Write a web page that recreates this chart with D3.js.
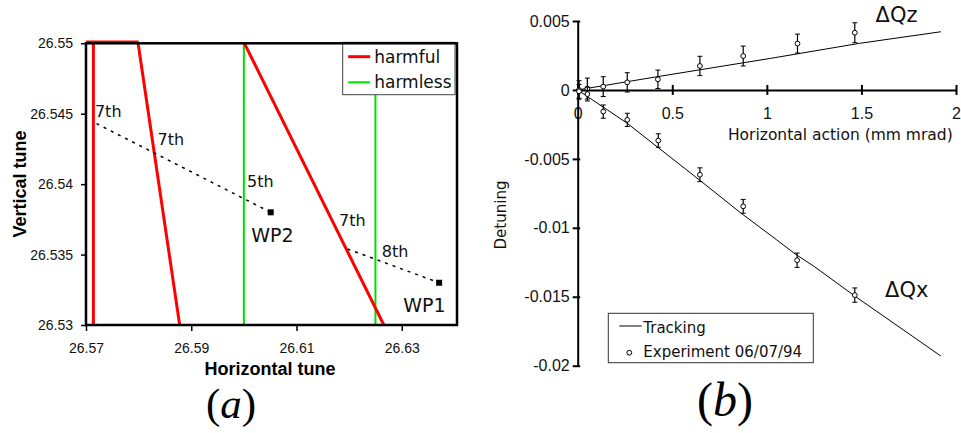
<!DOCTYPE html>
<meta charset="utf-8">
<style>
    body { margin: 0; background: #fff; }
    svg { font-family: "DejaVu Sans", sans-serif; }
    .frame { fill: none; stroke: black; stroke-width: 2.5; }
    .axA path { display: none; }
    .axA line { stroke: black; stroke-width: 1.5; }
    .axB path { stroke: black; stroke-width: 2; }
    .axB line { stroke: black; stroke-width: 2; }
</style>
<body>
<script src="https://d3js.org/d3.v7.min.js"></script>
<script>
    // ---- panel (a): tune diagram ----
    const tuneXTicks = [26.57, 26.59, 26.61, 26.63];
    const tuneXLabels = ["26.57", "26.59", "26.61", "26.63"];
    const tuneYTicks = [26.53, 26.535, 26.54, 26.545, 26.55];
    const tuneYLabels = ["26.53", "26.535", "26.54", "26.545", "26.55"];

    // resonance lines [qx1, qy1, qx2, qy2]
    const harmfulLines = [
        [26.57, 26.5501, 26.58, 26.5501],
        [26.5714, 26.55, 26.5714, 26.53],
        [26.5799, 26.55, 26.5878, 26.53],
        [26.6001, 26.55, 26.6266, 26.53]
    ];
    const harmlessLines = [
        [26.600, 26.55, 26.600, 26.53],
        [26.625, 26.55, 26.625, 26.53]
    ];
    const wpNames = ["WP1", "WP2"];
    const wpQx = [26.6371, 26.6051];
    const wpQy = [26.5330, 26.5380];
    const dottedPaths = [
        [[26.5720, 26.5443], [26.6051, 26.5380]],
        [[26.6197, 26.5354], [26.6371, 26.5330]]
    ];
    const orderText = ["7th", "7th", "5th", "7th", "8th"];
    const orderQx = [26.5717, 26.5836, 26.6006, 26.6181, 26.6262];
    const orderQy = [26.5448, 26.5428, 26.5398, 26.5370, 26.5348];
    const wpLabelQx = [26.6303, 26.6014];
    const wpLabelQy = [26.5309, 26.5359];

    // ---- panel (b): detuning ----
    const actTicks = [0, 0.5, 1, 1.5, 2];
    const actLabels = ["0", "0.5", "1", "1.5", "2"];
    const detTicks = [0.005, 0, -0.005, -0.01, -0.015, -0.02];
    const detLabels = ["0.005", "0", "-0.005", "-0.01", "-0.015", "-0.02"];

    const trackZx = [0, 0.42, 1.02, 1.49, 1.92];
    const trackZy = [0, 0.00096, 0.00229, 0.00338, 0.00422];
    const trackXx = [0, 0.26, 0.65, 0.86, 1.05, 1.15, 1.25, 1.47, 1.92];
    const trackXy = [0, -0.0024, -0.0066, -0.0089, -0.01085, -0.0119, -0.0128, -0.0150, -0.0193];

    const expZx = [0.007, 0.051, 0.135, 0.262, 0.424, 0.646, 0.875, 1.162, 1.465];
    const expZy = [0.0000, 0.0001, 0.00024, 0.00055, 0.00077, 0.00174, 0.00246, 0.00336, 0.00415];
    const expZerr = [0.00067, 0.00076, 0.00072, 0.0007, 0.00067, 0.0007, 0.00072, 0.00069, 0.00072];
    const expXx = [0.007, 0.051, 0.135, 0.262, 0.426, 0.646, 0.875, 1.160, 1.465];
    const expXy = [-0.0001, -0.0003, -0.00157, -0.00217, -0.00367, -0.00615, -0.00844, -0.01235, -0.01488];
    const expXerr = [0.0005, 0.0005, 0.00048, 0.00048, 0.00049, 0.0005, 0.0005, 0.00052, 0.00052];

    const svg = d3.select('body').append('svg')
        .attr('width', 961)
        .attr('height', 433);

    // ================= (a) =================
    const tx = d3.scaleLinear().domain([26.57, 26.6405]).range([86, 457]);
    const ty = d3.scaleLinear().domain([26.53, 26.55]).range([325, 43.3]);
    const a = svg.append('g');

    a.append('g').attr('class', 'axA')
        .attr('transform', 'translate(0,' + ty(26.53) + ')')
        .call(d3.axisBottom(tx).tickValues(tuneXTicks).tickSize(6).tickSizeOuter(0).tickPadding(12)
            .tickFormat((d, i) => tuneXLabels[i]))
        .selectAll('text').style('font-size', '14px').attr('fill', '#111');

    a.append('g').attr('class', 'axA')
        .attr('transform', 'translate(' + tx(26.57) + ',0)')
        .call(d3.axisLeft(ty).tickValues(tuneYTicks).tickSize(5).tickSizeOuter(0).tickPadding(8)
            .tickFormat((d, i) => tuneYLabels[i]))
        .selectAll('text').style('font-size', '14px').attr('fill', '#111');

    a.selectAll('.harmless').data(harmlessLines).enter().append('line')
        .attr('x1', d => tx(d[0])).attr('y1', d => ty(d[1]))
        .attr('x2', d => tx(d[2])).attr('y2', d => ty(d[3]))
        .attr('stroke', '#00e000').attr('stroke-width', 2);

    a.selectAll('.harmful').data(harmfulLines).enter().append('line')
        .attr('x1', d => tx(d[0])).attr('y1', d => ty(d[1]))
        .attr('x2', d => tx(d[2])).attr('y2', d => ty(d[3]))
        .attr('stroke', '#ff0000').attr('stroke-width', 3);

    a.selectAll('.dotted').data(dottedPaths).enter().append('path')
        .attr('d', d => d3.line().x(p => tx(p[0])).y(p => ty(p[1]))(d))
        .attr('fill', 'none').attr('stroke', 'black')
        .attr('stroke-width', 1.5).attr('stroke-dasharray', '3,5');

    a.selectAll('.wp').data(wpQx).enter().append('rect')
        .attr('x', (d, i) => tx(d) - 3).attr('y', (d, i) => ty(wpQy[i]) - 3)
        .attr('width', 6).attr('height', 6).attr('fill', 'black');

    a.selectAll('.order').data(orderText).enter().append('text')
        .attr('x', (d, i) => tx(orderQx[i])).attr('y', (d, i) => ty(orderQy[i]))
        .style('font-size', '16px').attr('fill', '#111').text(d => d);

    a.selectAll('.wplab').data(wpNames).enter().append('text')
        .attr('x', (d, i) => tx(wpLabelQx[i])).attr('y', (d, i) => ty(wpLabelQy[i]))
        .style('font-size', '19px').attr('fill', '#111').text(d => d);

    // legend
    const lg = a.append('g').attr('transform', 'translate(342.7,42.3)');
    lg.append('rect').attr('width', 112.3).attr('height', 52.4)
        .attr('fill', 'white').attr('stroke', '#444').attr('stroke-width', 1);
    const legA = [['harmful', '#ff0000', 3], ['harmless', '#00e000', 2]];
    legA.forEach((e, i) => {
        lg.append('line').attr('x1', 5.5).attr('x2', 27.5)
            .attr('y1', 14.4 + i * 25.6).attr('y2', 14.4 + i * 25.6)
            .attr('stroke', e[1]).attr('stroke-width', e[2]);
        lg.append('text').attr('x', 31.5).attr('y', 20.6 + i * 25.6)
            .style('font-size', '17px').attr('fill', '#111').text(e[0]);
    });

    a.append('rect').attr('class', 'frame')
        .attr('x', tx(26.57)).attr('y', ty(26.55))
        .attr('width', tx.range()[1] - tx(26.57)).attr('height', ty(26.53) - ty(26.55));

    a.append('text').attr('x', 270).attr('y', 375).attr('text-anchor', 'middle')
        .style('font-family', '"Liberation Sans", sans-serif').style('font-weight', 'bold')
        .style('font-size', '18px').text('Horizontal tune');
    a.append('text').attr('transform', 'translate(26,184) rotate(-90)').attr('text-anchor', 'middle')
        .style('font-family', '"Liberation Sans", sans-serif').style('font-weight', 'bold')
        .style('font-size', '18px').text('Vertical tune');

    // ================= (b) =================
    const bx = d3.scaleLinear().domain([0, 2]).range([577.7, 956]);
    const by = d3.scaleLinear().domain([-0.02, 0.005]).range([365.7, 21]);
    const b = svg.append('g');

    const xa = b.append('g').attr('class', 'axB')
        .attr('transform', 'translate(0,' + by(0) + ')')
        .call(d3.axisBottom(bx).tickValues(actTicks).tickSize(5).tickSizeOuter(0).tickPadding(13)
            .tickFormat((d, i) => actLabels[i]));
    xa.selectAll('.tick line').attr('y1', -5);
    xa.selectAll('text').style('font-size', '16px').attr('fill', '#111');

    const ya = b.append('g').attr('class', 'axB')
        .attr('transform', 'translate(' + bx(0) + ',0)')
        .call(d3.axisLeft(by).tickValues(detTicks).tickSize(5).tickSizeOuter(0).tickPadding(3)
            .tickFormat((d, i) => detLabels[i]));
    ya.selectAll('.tick line').attr('x1', 2.5);
    ya.selectAll('text').style('font-size', '16px').attr('fill', '#111');

    b.append('text').attr('x', 952.7).attr('y', 140).attr('text-anchor', 'end')
        .style('font-size', '15.5px').attr('fill', '#111').text('Horizontal action (mm mrad)');
    b.append('text').attr('transform', 'translate(506,215) rotate(-90)').attr('text-anchor', 'middle')
        .style('font-size', '15px').attr('fill', '#111').text('Detuning');

    const line = d3.line().x(d => bx(d[0])).y(d => by(d[1]));
    [[trackZx, trackZy], [trackXx, trackXy]].forEach(s => {
        b.append('path').datum(s[0].map((v, i) => [v, s[1][i]]))
            .attr('d', line).attr('fill', 'none').attr('stroke', 'black').attr('stroke-width', 1);
    });

    function drawExp(xs, ys, es) {
        const g = b.append('g');
        const pts = xs.map((v, i) => ({x: v, y: ys[i], e: es[i]}));
        const pg = g.selectAll('g').data(pts).enter().append('g');
        pg.append('line').attr('x1', d => bx(d.x)).attr('x2', d => bx(d.x))
            .attr('y1', d => by(d.y + d.e)).attr('y2', d => by(d.y - d.e))
            .attr('stroke', 'black').attr('stroke-width', 1.2);
        [1, -1].forEach(sg => {
            pg.append('line').attr('x1', d => bx(d.x) - 2.5).attr('x2', d => bx(d.x) + 2.5)
                .attr('y1', d => by(d.y + sg * d.e)).attr('y2', d => by(d.y + sg * d.e))
                .attr('stroke', 'black').attr('stroke-width', 1);
        });
        pg.append('circle').attr('cx', d => bx(d.x)).attr('cy', d => by(d.y)).attr('r', 2.4)
            .attr('fill', 'white').attr('stroke', 'black').attr('stroke-width', 1);
    }
    drawExp(expZx, expZy, expZerr);
    drawExp(expXx, expXy, expXerr);

    b.append('text').attr('x', bx(1.575)).attr('y', by(0.00495))
        .style('font-size', '21px').attr('fill', '#111').text('ΔQz');
    b.append('text').attr('x', bx(1.625)).attr('y', by(-0.015))
        .style('font-size', '21px').attr('fill', '#111').text('ΔQx');

    // legend (b)
    const lb = b.append('g').attr('transform', 'translate(608.3,313.3)');
    lb.append('rect').attr('width', 205).attr('height', 49.4)
        .attr('fill', 'white').attr('stroke', '#333').attr('stroke-width', 1);
    lb.append('line').attr('x1', 11).attr('x2', 33.4).attr('y1', 12.7).attr('y2', 12.7)
        .attr('stroke', 'black').attr('stroke-width', 1);
    lb.append('text').attr('x', 35).attr('y', 19.4).style('font-size', '15px').attr('fill', '#111').text('Tracking');
    lb.append('circle').attr('cx', 21).attr('cy', 39.4).attr('r', 2.4)
        .attr('fill', 'white').attr('stroke', 'black').attr('stroke-width', 1);
    lb.append('text').attr('x', 35).attr('y', 43.4).style('font-size', '15px').attr('fill', '#111').text('Experiment 06/07/94');

    // captions
    const cap = (x, y, size, letter) => {
        const t = svg.append('text').attr('x', x).attr('y', y).attr('text-anchor', 'middle')
            .style('font-family', '"Liberation Serif", serif').style('font-size', size + 'px');
        t.append('tspan').text('(');
        t.append('tspan').style('font-style', 'italic').text(letter);
        t.append('tspan').text(')');
    };
    cap(231, 418, 43, 'a');
    cap(725, 416, 48, 'b');
</script>
</body>
</html>
